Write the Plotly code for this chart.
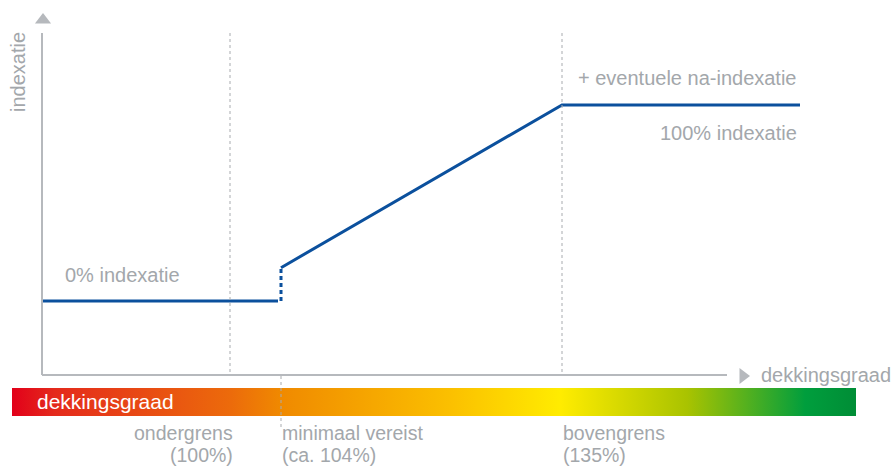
import plotly.graph_objects as go

# Coverage ratio (dekkingsgraad) is drawn on a schematic horizontal scale
# (arbitrary units); indexation is drawn in percent of full indexation.
AXIS_X0 = 42
AXIS_X1 = 727
threshold_x = [230, 281, 562]
threshold_names = ["ondergrens", "minimaal vereist", "bovengrens"]
threshold_values = ["(100%)", "(ca. 104%)", "(135%)"]
threshold_anchor = ["right", "left", "left"]

# Indexation policy path
base_x = [42, 278]
base_y = [0, 0]
jump_x = [281, 281]
jump_y = [0, 17]
ramp_x = [281, 562, 800]
ramp_y = [17, 100, 100]

# Colour band under the horizontal axis
band_x = [12, 856]
band_stops = [0.0, 0.05, 0.26, 0.32, 0.52, 0.65, 0.80, 0.94, 1.0]
band_colors = ["#e2001a", "#e42a1c", "#ec6b0b", "#f08a00", "#fbc000",
               "#ffec00", "#a9c300", "#009e3d", "#008d36"]

BLUE = "#0b509d"
GREY = "#b6b9bd"
TEXT = "#a3a7ab"
FONT = "Liberation Sans, Arial, sans-serif"
FS = 20

fig = go.Figure()

# gradient band (drawn on the overlay axis y2, top-down units)
fig.add_trace(go.Scatter(
    x=[band_x[0], band_x[1], band_x[1], band_x[0], band_x[0]],
    y=[388, 388, 416, 416, 388],
    yaxis="y2", mode="none", fill="toself",
    fillgradient=dict(type="horizontal",
                      colorscale=[[s, c] for s, c in zip(band_stops, band_colors)]),
    hoverinfo="skip", showlegend=False,
))

# indexation line
fig.add_trace(go.Scatter(x=base_x, y=base_y, mode="lines",
                         line=dict(color=BLUE, width=3), showlegend=False))
fig.add_trace(go.Scatter(x=jump_x, y=jump_y, mode="lines",
                         line=dict(color=BLUE, width=3, dash="4px,3px"), showlegend=False))
fig.add_trace(go.Scatter(x=ramp_x, y=ramp_y, mode="lines",
                         line=dict(color=BLUE, width=3), showlegend=False))

# axis arrow heads
fig.add_trace(go.Scatter(x=[AXIS_X0 + 1], y=[20], yaxis="y2", mode="markers",
                         marker=dict(symbol="triangle-up", size=14, color=GREY),
                         showlegend=False, hoverinfo="skip"))
fig.add_trace(go.Scatter(x=[743], y=[376], yaxis="y2", mode="markers",
                         marker=dict(symbol="triangle-right", size=14, color=GREY),
                         showlegend=False, hoverinfo="skip"))

shapes = [
    dict(type="line", xref="x", yref="y2", x0=AXIS_X0, x1=AXIS_X0, y0=33, y1=375,
         line=dict(color=GREY, width=2)),
    dict(type="line", xref="x", yref="y2", x0=AXIS_X0, x1=AXIS_X1, y0=375, y1=375,
         line=dict(color=GREY, width=2)),
    dict(type="line", xref="x", yref="y2", x0=threshold_x[0], x1=threshold_x[0], y0=33, y1=372,
         line=dict(color="#a8abaf", width=1, dash="dot")),
    dict(type="line", xref="x", yref="y2", x0=threshold_x[2], x1=threshold_x[2], y0=33, y1=372,
         line=dict(color="#a8abaf", width=1, dash="dot")),
    dict(type="line", xref="x", yref="y2", x0=threshold_x[1], x1=threshold_x[1], y0=376, y1=428,
         line=dict(color="#a8abaf", width=1, dash="dot"), layer="above"),
]

ann = []
def label(x, y, text, anchor="left", color=TEXT, size=FS, angle=0):
    ann.append(dict(x=x, y=y, xref="x", yref="y2", text=text, showarrow=False,
                    xanchor=anchor, yanchor="middle", textangle=angle,
                    font=dict(family=FONT, size=size, color=color)))

label(18, 72, "indexatie", anchor="center", angle=-90)
label(63, 275, "0% indexatie")
label(799, 78, "+ eventuele na-indexatie", anchor="right")
label(799, 133, "100% indexatie", anchor="right")
label(759, 375, "dekkingsgraad")
label(35, 401, "dekkingsgraad", color="white", size=21)
for x, name, val, anc in zip(threshold_x, threshold_names, threshold_values, threshold_anchor):
    xx = x + 5 if anc == "right" else x - 1
    label(xx, 433, name, anchor=anc, size=19.5)
    label(xx, 455, val, anchor=anc, size=19.5)

fig.update_layout(
    width=896, height=468,
    margin=dict(l=0, r=0, t=0, b=0),
    paper_bgcolor="white", plot_bgcolor="white",
    xaxis=dict(range=[0, 896], visible=False, fixedrange=True),
    yaxis=dict(range=[-85.2, 153.57], visible=False, fixedrange=True),
    yaxis2=dict(range=[468, 0], visible=False, overlaying="y", fixedrange=True),
    shapes=shapes, annotations=ann,
)

fig.write_html("out.html")
